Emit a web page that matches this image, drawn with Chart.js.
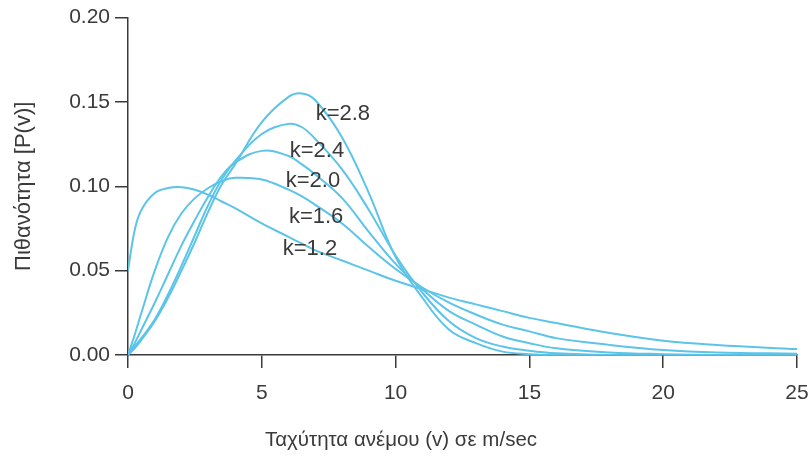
<!DOCTYPE html>
<html>
<head>
<meta charset="utf-8">
<script src="https://cdn.jsdelivr.net/npm/chart.js@4.4.1/dist/chart.umd.min.js"></script>
<style>
  html, body { margin: 0; padding: 0; background: #fff; }
  #wrap { width: 811px; height: 459px; }
</style>
</head>
<body>
<div id="wrap"><canvas id="weibull"></canvas></div>
<script>
const speeds = [0, 0.25, 0.5, 1, 1.5, 2, 2.5, 3, 3.5, 4, 5, 6, 6.5, 7, 8, 9, 10, 11, 12, 13, 14, 15, 16, 18, 20, 22, 25];

// probability P(v) for each shape factor k
const pK12 = [0.050, 0.074, 0.086, 0.096, 0.099, 0.0995, 0.098, 0.095, 0.091, 0.087, 0.078, 0.070, 0.066, 0.062, 0.056, 0.050, 0.044, 0.039, 0.034, 0.030, 0.026, 0.022, 0.019, 0.013, 0.0085, 0.006, 0.0035];
const pK16 = [0, 0.012, 0.025, 0.050, 0.070, 0.084, 0.093, 0.099, 0.103, 0.105, 0.104, 0.098, 0.094, 0.089, 0.078, 0.064, 0.051, 0.040, 0.031, 0.024, 0.018, 0.014, 0.010, 0.006, 0.003, 0.0015, 0.0008];
const pK20 = [0, 0.007, 0.015, 0.031, 0.048, 0.065, 0.080, 0.094, 0.106, 0.114, 0.121, 0.118, 0.113, 0.107, 0.093, 0.073, 0.054, 0.039, 0.026, 0.018, 0.011, 0.007, 0.004, 0.0015, 0.0005, 0, 0];
const pK24 = [0, 0.005, 0.010, 0.021, 0.036, 0.053, 0.071, 0.089, 0.104, 0.115, 0.131, 0.137, 0.135, 0.128, 0.110, 0.086, 0.059, 0.037, 0.020, 0.010, 0.005, 0.0025, 0.001, 0, 0, 0, 0];
const pK28 = [0, 0.004, 0.009, 0.020, 0.034, 0.050, 0.067, 0.085, 0.101, 0.113, 0.138, 0.153, 0.155, 0.151, 0.129, 0.096, 0.058, 0.034, 0.015, 0.007, 0.002, 0.0005, 0, 0, 0, 0, 0];

const curveNames = ["k=1.2", "k=1.6", "k=2.0", "k=2.4", "k=2.8"];
const xTicks = [0, 5, 10, 15, 20, 25];
const yTicks = [0, 0.05, 0.10, 0.15, 0.20];

// where the k= texts sit (in chart values)
const labelSpots = [[6.80, 0.063], [7.03, 0.082], [6.91, 0.103], [7.06, 0.121], [8.03, 0.143]];

const lineColor = "#5bc4e8";
const ink = "#3a3a3a";
const fontName = "'Liberation Sans', Arial, sans-serif";

const allSeries = [pK12, pK16, pK20, pK24, pK28];

function toPoints(values) {
  return speeds.map(function (v, i) {
    return { x: v, y: values[i] };
  });
}

const curveLabels = {
  id: "curveLabels",
  afterDatasetsDraw(chart) {
    const ctx = chart.ctx;
    const xs = chart.scales.x;
    const ys = chart.scales.y;
    ctx.save();
    ctx.fillStyle = ink;
    ctx.font = "22px " + fontName;
    ctx.textAlign = "center";
    ctx.textBaseline = "middle";
    for (let i = 0; i < curveNames.length; i++) {
      ctx.fillText(curveNames[i], xs.getPixelForValue(labelSpots[i][0]), ys.getPixelForValue(labelSpots[i][1]));
    }
    // x axis title
    ctx.font = "20.5px " + fontName;
    ctx.fillText("Ταχύτητα ανέμου (v) σε m/sec", 401, 440);
    ctx.restore();
  }
};

const config = {
  type: "line",
  data: {
    datasets: allSeries.map(function (vals, i) {
      return {
        label: curveNames[i],
        data: toPoints(vals),
        borderColor: lineColor,
        borderWidth: 2,
        pointRadius: 0,
        fill: false,
        tension: 0.4
      };
    })
  },
  options: {
    responsive: true,
    maintainAspectRatio: false,
    animation: false,
    layout: { padding: { top: 16, right: 14, left: 0, bottom: 0 } },
    plugins: {
      legend: { display: false },
      tooltip: { enabled: false }
    },
    scales: {
      x: {
        type: "linear",
        min: 0,
        max: 25,
        afterBuildTicks(scale) {
          scale.ticks = xTicks.map(function (v) { return { value: v }; });
        },
        afterFit(scale) {
          scale.height = 104;
          scale.paddingRight = 0;
          scale.paddingLeft = 0;
        },
        ticks: { color: ink, font: { family: fontName, size: 21 }, padding: 13 },
        grid: { drawOnChartArea: false, drawTicks: true, tickLength: 13, color: ink, lineWidth: 1.5 },
        border: { display: true, color: ink, width: 1.5 }
      },
      y: {
        min: 0,
        max: 0.2,
        afterBuildTicks(scale) {
          scale.ticks = yTicks.map(function (v) { return { value: v }; });
        },
        afterFit(scale) { scale.width = 128; },
        ticks: {
          color: ink,
          font: { family: fontName, size: 21 },
          padding: 5,
          callback: function (v) { return v.toFixed(2); }
        },
        grid: { drawOnChartArea: false, drawTicks: true, tickLength: 13, color: ink, lineWidth: 1.5 },
        border: { display: true, color: ink, width: 1.5 },
        title: {
          display: true,
          text: "Πιθανότητα [P(v)]",
          color: ink,
          font: { family: fontName, size: 22 },
          padding: { top: 11, bottom: 0 }
        }
      }
    }
  },
  plugins: [curveLabels]
};

new Chart(document.getElementById("weibull"), config);
</script>
</body>
</html>
